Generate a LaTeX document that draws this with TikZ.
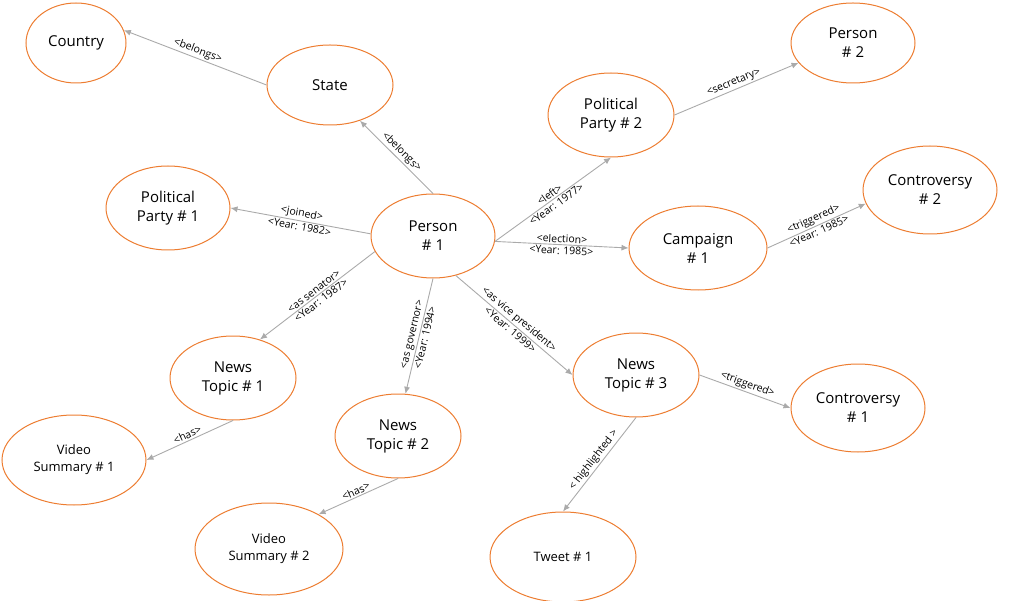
\documentclass[tikz,border=0pt]{standalone}
\usepackage{fontspec}
\setmainfont{Open Sans}
\usetikzlibrary{shapes.geometric,arrows.meta}
\definecolor{org}{RGB}{237,125,49}
\definecolor{edg}{RGB}{170,170,170}
\tikzset{
  ent/.style={ellipse,draw=org,line width=1pt,fill=white,align=center,font=\fontsize{15}{19}\selectfont},
  rel/.style={draw=edg,line width=0.9pt,-{Latex[length=7pt,width=6pt]}},
  lab/.style={font=\fontsize{10.5}{12}\selectfont,sloped,inner sep=1.5pt,midway}
}
\begin{document}
\begin{tikzpicture}[x=1pt,y=-1pt]
\useasboundingbox (0,0) rectangle (1024,601);
\node[ent,minimum width=100,minimum height=80] (country) at (76,43) {Country};
\node[ent,minimum width=126,minimum height=80] (state) at (330,85) {State};
\node[ent,minimum width=124,minimum height=80] (p2) at (853,43) {Person\\\# 2};
\node[ent,minimum width=126,minimum height=84] (pp2) at (611,115) {Political\\Party \# 2};
\node[ent,minimum width=124,minimum height=84] (pp1) at (168,208) {Political\\Party \# 1};
\node[ent,minimum width=124,minimum height=84] (p1) at (433,236) {Person\\\# 1};
\node[ent,minimum width=134,minimum height=88] (c2) at (930,190) {Controversy\\\# 2};
\node[ent,minimum width=138,minimum height=84] (camp) at (698,248) {Campaign\\\# 1};
\node[ent,minimum width=126,minimum height=84] (nt1) at (233,378) {News\\Topic \# 1};
\node[ent,minimum width=126,minimum height=84] (nt2) at (398,436) {News\\Topic \# 2};
\node[ent,minimum width=126,minimum height=84] (nt3) at (636,375) {News\\Topic \# 3};
\node[ent,minimum width=134,minimum height=88] (c1) at (858,408) {Controversy\\\# 1};
\node[ent,minimum width=144,minimum height=90,font=\fontsize{13}{17}\selectfont] (vs1) at (74,460) {Video\\Summary \# 1};
\node[ent,minimum width=148,minimum height=92,font=\fontsize{13}{17}\selectfont] (vs2) at (269,549) {Video\\Summary \# 2};
\node[ent,minimum width=146,minimum height=90,font=\fontsize{13}{17}\selectfont] (tw) at (563,557) {Tweet \# 1};

\draw[rel] (state.west) -- node[lab,above] {<belongs>} (country.15);
\draw[rel] (p1.north) -- node[lab,above] {<belongs>} (state.-50);
\draw[rel] (p1.178) -- node[lab,above] {<joined>} node[lab,below] {<Year: 1982>} (pp1.east);
\draw[rel] (p1.-5) -- node[lab,above] {<left>} node[lab,below] {<Year: 1977>} (pp2.-90);
\draw[rel] (pp2.east) -- node[lab,above] {<secretary>} (p2.200);
\draw[rel] (p1.-5) -- node[lab,above] {<election>} node[lab,below] {<Year: 1985>} (camp.west);
\draw[rel] (camp.east) -- node[lab,above] {<triggered>} node[lab,below] {<Year: 1985>} (c2.192);
\draw[rel] (p1.195) -- node[lab,above] {<as senator>} node[lab,below] {<Year: 1987>} (nt1.55);
\draw[rel] (p1.south) -- node[lab,above] {<as governor>} node[lab,below] {<Year: 1994>} (nt2.80);
\draw[rel] (p1.-60) -- node[lab,above] {<as vice president>} node[lab,below] {<Year: 1999>} (nt3.west);
\draw[rel] (nt1.south) -- node[lab,above] {<has>} (vs1.east);
\draw[rel] (nt2.south) -- node[lab,above] {<has>} (vs2.35);
\draw[rel] (nt3.east) -- node[lab,above] {<triggered>} (c1.west);
\draw[rel] (nt3.south) -- node[lab,above] {< highlighted >} (tw.north);
\end{tikzpicture}
\end{document}
